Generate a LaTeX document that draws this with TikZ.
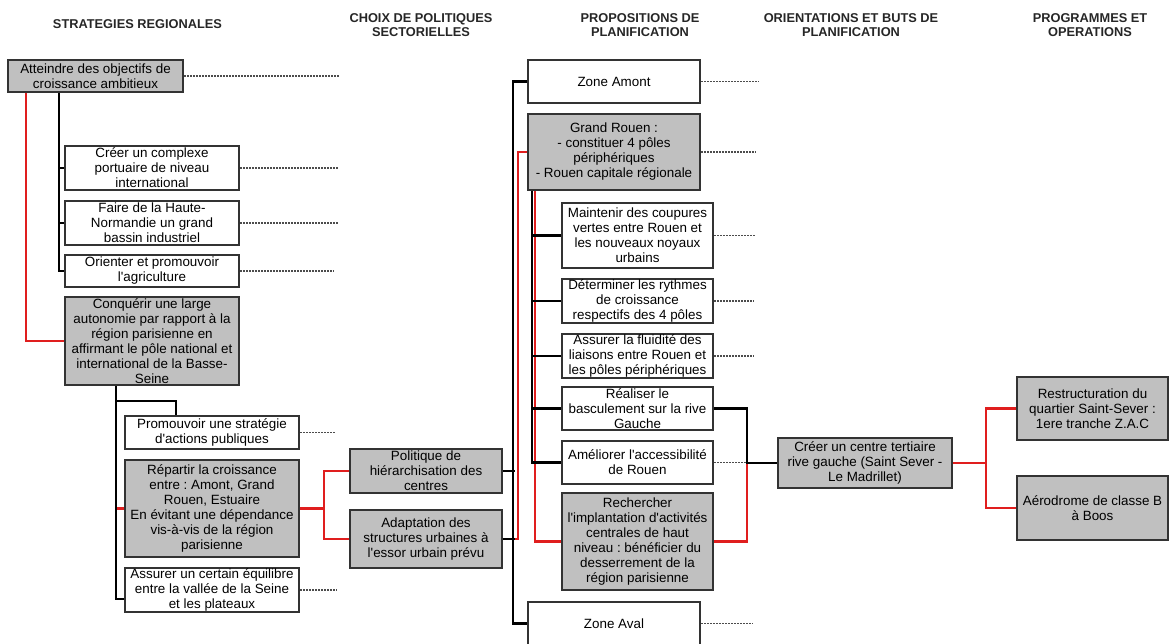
\documentclass[tikz,border=0pt]{standalone}
\usepackage{fontspec}
\setmainfont{Liberation Sans}[Ligatures=TeXOff]
\usepackage{xcolor}
\usepackage{tikz}
\usetikzlibrary{positioning}
\frenchspacing

\definecolor{boxgray}{RGB}{192,192,192}
\definecolor{linkred}{RGB}{224,30,30}

\begin{document}
\begin{tikzpicture}[
    x=1pt, y=-1pt,
    box/.style={draw=black!80, line width=2pt, fill=#1, align=center, font=\fontsize{13.4}{15}\selectfont, inner xsep=3pt, inner ysep=0pt},
    colA/.style={minimum width=174pt},
    colB/.style={minimum width=152pt},
    colC/.style={minimum width=172pt},
    colD/.style={minimum width=151pt},
    head/.style={align=center, font=\fontsize{12.8}{14}\selectfont\bfseries, text=black!85},
    link/.style={black, line width=2.2pt},
    redlink/.style={linkred, line width=2.2pt},
    dots/.style={black!70, line width=1.6pt, dash pattern=on 1.5pt off 1.5pt}
]
\useasboundingbox (0,0) rectangle (1169,644);

% Column titles
\node[head] (h1) at (137.5,24) {STRATEGIES REGIONALES};
\node[head] (h2) at (421,25) {CHOIX DE POLITIQUES\\SECTORIELLES};
\node[head] (h3) at (640,25) {PROPOSITIONS DE\\PLANIFICATION};
\node[head] (h4) at (851,25) {ORIENTATIONS ET BUTS DE\\PLANIFICATION};
\node[head] (h5) at (1090,25) {PROGRAMMES ET\\OPERATIONS};

% Regional strategies
\node[box=boxgray, minimum width=175pt, minimum height=32pt] (a1) at (95.5,76) {Atteindre des objectifs de\\croissance ambitieux};
\node[box=white, colA, minimum height=44pt] (a2) at (152,168) {Créer un complexe\\portuaire de niveau\\international};
\node[box=white, colA, minimum height=44pt] (a3) at (152,223) {Faire de la Haute-\\Normandie un grand\\bassin industriel};
\node[box=white, colA, minimum height=32pt] (a4) at (152,271) {Orienter et promouvoir\\l'agriculture};
\node[box=boxgray, colA, minimum height=88pt] (a5) at (152,341) {Conquérir une large\\autonomie par rapport à la\\région parisienne en\\affirmant le pôle national et\\international de la Basse-\\Seine};
\node[box=white, colA, minimum height=33pt] (a6) at (212,432.5) {Promouvoir une stratégie\\d'actions publiques};
\node[box=boxgray, colA, minimum height=97pt] (a7) at (212,508.5) {Répartir la croissance\\entre : Amont, Grand\\Rouen, Estuaire\\En évitant une dépendance\\vis-à-vis de la région\\parisienne};
\node[box=white, colA, minimum height=44pt] (a8) at (212,590) {Assurer un certain équilibre\\entre la vallée de la Seine\\et les plateaux};

% Sector policies
\node[box=boxgray, colB, minimum height=44pt] (b1) at (426,471) {Politique de\\hiérarchisation des\\centres};
\node[box=boxgray, colB, minimum height=58pt] (b2) at (426,539) {Adaptation des\\structures urbaines à\\l'essor urbain prévu};

% Planning proposals
\node[box=white, colC, minimum height=43pt] (c1) at (614,81.5) {Zone Amont};
\node[box=boxgray, colC, minimum height=76pt] (c2) at (614,152) {Grand Rouen :\\- constituer 4 pôles\\périphériques\\- Rouen capitale régionale};
\node[box=white, colD, minimum height=65pt] (c3) at (637.5,235.5) {Maintenir des coupures\\vertes entre Rouen et\\les nouveaux noyaux\\urbains};
\node[box=white, colD, minimum height=44pt] (c4) at (637.5,301) {Déterminer les rythmes\\de croissance\\respectifs des 4 pôles};
\node[box=white, colD, minimum height=44pt] (c5) at (637.5,356) {Assurer la fluidité des\\liaisons entre Rouen et\\les pôles périphériques};
\node[box=white, colD, minimum height=43pt] (c6) at (637.5,408.5) {Réaliser le\\basculement sur la rive\\Gauche};
\node[box=white, colD, minimum height=43pt] (c7) at (637.5,462.5) {Améliorer l'accessibilité\\de Rouen};
\node[box=boxgray, colD, minimum height=97pt] (c8) at (637.5,541.5) {Rechercher\\l'implantation d'activités\\centrales de haut\\niveau : bénéficier du\\desserrement de la\\région parisienne};
\node[box=white, colC, minimum height=43pt] (c9) at (614,623.5) {Zone Aval};

% Orientations and programmes
\node[box=boxgray, colA, minimum height=50pt] (d1) at (865,463) {Créer un centre tertiaire\\rive gauche (Saint Sever -\\Le Madrillet)};
\node[box=boxgray, colD, minimum height=63pt] (e1) at (1092.5,408.5) {Restructuration du\\quartier Saint-Sever :\\1ere tranche Z.A.C};
\node[box=boxgray, colD, minimum height=64pt] (e2) at (1092.5,508) {Aérodrome de classe B\\à Boos};

% Links in the first column
\draw[link] ([xshift=52pt]a1.south west) |- (a2.west);
\draw[link] ([xshift=52pt]a1.south west) |- (a3.west);
\draw[link] ([xshift=52pt]a1.south west) |- (a4.west);
\draw[redlink] ([xshift=19pt]a1.south west) |- (a5.west);
\draw[redlink] ([xshift=52pt]a5.south west) |- (a7.west);
\draw[link] ([xshift=52pt]a5.south west) |- ([yshift=-9pt]a8.west);
\draw[link] ([xshift=52pt]a5.south west) |- ([xshift=52pt, yshift=14pt]a6.north west) -- ([xshift=52pt]a6.north west);
\draw[redlink] (a7.east) -- ++(24,0) |- (b1.west);
\draw[redlink] (a7.east) -- ++(24,0) |- (b2.west);

% Links in the middle
\draw[link] (c1.west) -- ++(-14,0) |- (c9.west);
\draw[link] (b1.east) -- ++(12,0);
\draw[redlink] (b2.east) -- ++(15,0) |- (c2.west);
\draw[link] (b2.east) -- ++(12,0);
\draw[redlink] ([xshift=8pt]c2.south west) |- (c8.west);
\draw[link] ([xshift=5pt]c2.south west) |- (c3.west);
\draw[link] ([xshift=5pt]c2.south west) |- (c4.west);
\draw[link] ([xshift=5pt]c2.south west) |- (c5.west);
\draw[link] ([xshift=5pt]c2.south west) |- (c6.west);
\draw[link] ([xshift=5pt]c2.south west) |- (c7.west);

% Links on the right
\draw[redlink] (c8.east) -- ++(33,0) |- (d1.west);
\draw[link] (c6.east) -- ++(33,0) |- (d1.west);
\draw[redlink] (d1.east) -- ++(33,0) |- (e1.west);
\draw[redlink] (d1.east) -- ++(33,0) |- (e2.west);

% Dotted stubs
\foreach \n/\l in {a1/155, a2/99, a3/99, a4/94, a6/36, a8/37, c1/58, c2/55, c3/42, c4/40, c5/40, c7/33, c9/52}
    \draw[dots] (\n.east) -- ++(\l,0);

\end{tikzpicture}
\end{document}
